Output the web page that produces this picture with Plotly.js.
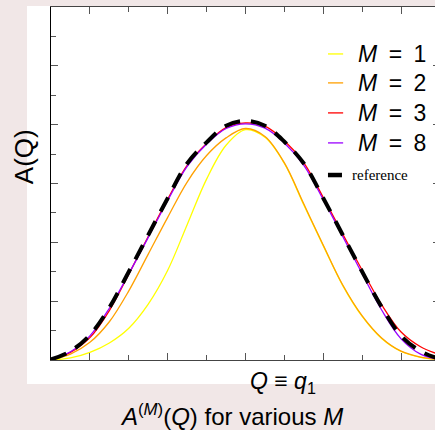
<!DOCTYPE html>
<html>
<head>
<meta charset="utf-8">
<script src="https://cdn.plot.ly/plotly-3.0.1.min.js"></script>
<style>
html,body{margin:0;padding:0;overflow:hidden;background:#f1e7e7;}
#chart{width:440px;height:430px;}
</style>
</head>
<body>
<div id="chart"></div>
<script>
// Q values (x axis, arbitrary units centred on q1)
const qValues = [-5,-4.5,-4,-3.5,-3,-2.5,-2,-1.5,-1,-0.5,0,0.5,1,1.5,2,2.5,3,3.5,4,4.5,5];
// A(Q)
const seriesM1 = [0,0.07,0.26,0.58,1.08,1.9,3.05,4.6,6.15,7.3,7.83,7.57,6.68,5.27,3.88,2.53,1.48,0.73,0.29,0.09,0.01];
const seriesM2 = [0,0.2,0.6,1.3,2.35,3.6,4.85,6.05,6.95,7.55,7.87,7.6,6.7,5.3,3.9,2.55,1.5,0.75,0.3,0.1,0.02];
const seriesM3 = [0.03,0.26,0.76,1.68,2.92,4.2,5.47,6.62,7.36,7.9,8.06,7.95,7.45,6.7,5.52,4.28,3.05,1.88,0.95,0.45,0.18];
const seriesM8 = [0.02,0.28,0.82,1.76,2.93,4.17,5.42,6.58,7.34,7.87,8.03,7.88,7.38,6.62,5.45,4.2,2.93,1.7,0.72,0.2,0.01];
const seriesRef = [0.02,0.3,0.85,1.78,3.0,4.25,5.5,6.68,7.4,7.96,8.13,7.96,7.42,6.68,5.5,4.25,3.0,1.8,0.82,0.3,0.03];

// legend labels
const seriesNames = ['<i>M</i>\u2002=\u20021','<i>M</i>\u2002=\u20022','<i>M</i>\u2002=\u20023','<i>M</i>\u2002=\u20028','reference'];
const seriesData = [seriesM1, seriesM2, seriesM3, seriesM8, seriesRef];
const seriesColors = ['#ffff00','#ffa000','#ff0000','#9a00ff','#000000'];
const seriesWidths = [1.3,1.3,1.3,1.3,4];
const seriesDash = ['solid','solid','solid','solid','16px,11px'];

const traces = seriesData.map((ys,i)=>({
  x: qValues, y: ys, type:'scatter', mode:'lines', name: seriesNames[i], showlegend:false,
  line:{color:seriesColors[i], width:seriesWidths[i], dash:seriesDash[i], shape:'spline', smoothing:1},
  hoverinfo:'skip'
}));

// hand-placed legend (short keys as in the reference)
const legendRowsY = [0.867, 0.785, 0.700, 0.615, 0.524];
const legendShapes = [];
const legendAnn = [];
seriesNames.forEach((nm,i)=>{
  const isRef = i === seriesNames.length-1;
  legendShapes.push({type:'line', xref:'paper', yref:'paper', x0:0.712, x1:isRef?0.748:0.751,
    y0:legendRowsY[i], y1:legendRowsY[i], line:{color:seriesColors[i], width:isRef?4.5:1.3}});
  legendAnn.push({text:nm, xref:'paper', yref:'paper', x:isRef?0.768:0.784, y:legendRowsY[i],
    xanchor:'left', yanchor:'middle', showarrow:false,
    font: isRef ? {family:'Liberation Serif', size:15, color:'#000'} : {family:'Liberation Sans', size:23, color:'#000'}});
});

const axisCommon = {
  showline:true, mirror:'ticks', ticks:'inside', ticklen:7, tickwidth:1, tickcolor:'#555',
  showticklabels:false, showgrid:false, zeroline:false, fixedrange:true
};
const minorCommon = {ticks:'inside', ticklen:5, tickwidth:1, tickcolor:'#555', dtick:1, tick0:0, showgrid:false};

const layout = {
  width:440, height:430,
  margin:{l:51, r:0, t:7, b:70, pad:0},
  paper_bgcolor:'#f1e7e7', plot_bgcolor:'#ffffff',
  font:{family:'Liberation Sans, Arial, sans-serif', size:23, color:'#000'},
  showlegend:false,
  xaxis:Object.assign({}, axisCommon, {range:[-5,5], dtick:2, tick0:0, linecolor:'#444', linewidth:1.3, minor:minorCommon}),
  yaxis:Object.assign({}, axisCommon, {range:[0,12], dtick:2, tick0:0, linecolor:'#000', linewidth:1.3, minor:minorCommon}),
  shapes:[{type:'rect', xref:'paper', yref:'paper', x0:-0.0617, x1:1.05, y0:-0.068, y1:1.003,
           fillcolor:'#ffffff', line:{width:0}, layer:'below'}].concat(legendShapes),
  annotations:[
    {text:'A(Q)', xref:'paper', yref:'paper', x:-0.069, y:0.575, textangle:-90,
     xanchor:'center', yanchor:'middle', showarrow:false, font:{size:26}},
    {text:'<i>Q</i> \u2261 <i>q</i><sub>1</sub>', xref:'paper', yref:'paper', x:0.506, y:-0.017,
     xanchor:'left', yanchor:'top', showarrow:false, font:{size:23}},
    {text:'<i>A</i><sup>(<i>M</i>)</sup>(<i>Q</i>) for various <i>M</i>', xref:'paper', yref:'paper', x:0.465, y:-0.204,
     xanchor:'center', yanchor:'bottom', showarrow:false, font:{size:24}}
  ].concat(legendAnn)
};

Plotly.newPlot('chart', traces, layout, {displayModeBar:false, staticPlot:true});
</script>
</body>
</html>
